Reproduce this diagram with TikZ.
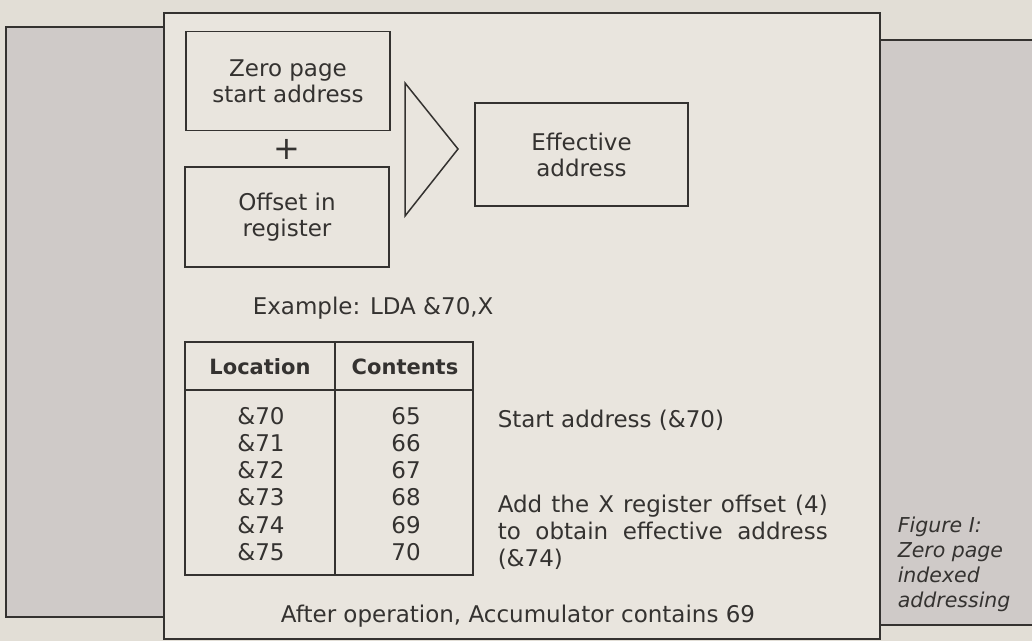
\documentclass[tikz,border=0pt]{standalone}
\usepackage{fontspec}
\setmainfont{DejaVu Sans}
\usetikzlibrary{positioning}
\definecolor{paper}{RGB}{226,222,214}
\definecolor{panel}{RGB}{233,229,222}
\definecolor{screen}{RGB}{207,202,200}
\definecolor{ink}{RGB}{52,50,48}

\begin{document}
\begin{tikzpicture}[x=1pt,y=-1pt,line width=1.5pt,color=ink,
                    font=\fontsize{23}{26}\selectfont]
  \tikzstyle{every node}=[inner sep=0pt]
  \tikzstyle{box}=[draw,align=center,minimum width=204pt,minimum height=99pt]
  \tikzstyle{head}=[anchor=base,font=\fontsize{21}{25}\selectfont\bfseries]
  \tikzstyle{note}=[anchor=base west]
  \tikzstyle{caption}=[anchor=base west,font=\fontsize{20.5}{25}\selectfont\itshape]

  \fill[paper] (0,0) rectangle (1032,641);
  \useasboundingbox (0,0) rectangle (1032,641);

  % side panels and page
  \filldraw[fill=screen] (164,27) -- (6,27) -- (6,617) -- (164,617);
  \filldraw[fill=screen] (1040,40) -- (880,40) -- (880,625) -- (1040,625);
  \filldraw[fill=panel] (164,13) rectangle (880,639);

  % addressing scheme
  \node[box]                    (zero)   at (288,81)      {Zero page\\start address};
  \node[font=\fontsize{32}{32}\selectfont] (plus) at (287,149) {+};
  \node[box,minimum height=100pt] (offset) at (287,217)   {Offset in\\register};
  \node[box,minimum width=213pt,minimum height=103pt]
                                (eff)    at (581.5,154.5) {Effective\\address};
  \draw (405,83) -- (458,149) -- (405,216) -- cycle;

  \node[note] (example) at (252,314) {Example: LDA \&70,X};

  % memory table
  \draw (185,342) rectangle (473,575);
  \draw (335,342) -- (335,575);
  \draw (185,390) -- (473,390);
  \node[head] (loc) at (260,374) {Location};
  \node[head] (con) at (405,374) {Contents};
  \foreach \i/\v in {0/65,1/66,2/67,3/68,4/69,5/70}
    {\node[anchor=base] (loc\i) at (261,424+27.3*\i) {\&7\i};
     \node[anchor=base] (con\i) at (406,424+27.3*\i) {\v};}

  \node[note] (start) at (497,427) {Start address (\&70)};
  \node[note] (add1)  at (497,512) {\makebox[330pt][s]{Add the X register offset (4)}};
  \node[note] (add2)  at (497,539) {\makebox[330pt][s]{to obtain effective address}};
  \node[note] (add3)  at (497,566) {(\&74)};
  \node[anchor=base] (after) at (518,622) {After operation, Accumulator contains 69};

  \node[caption] (fig1) at (897,532) {Figure I:};
  \node[caption] (fig2) at (897,557) {Zero page};
  \node[caption] (fig3) at (897,582) {indexed};
  \node[caption] (fig4) at (897,607) {addressing};
\end{tikzpicture}
\end{document}
